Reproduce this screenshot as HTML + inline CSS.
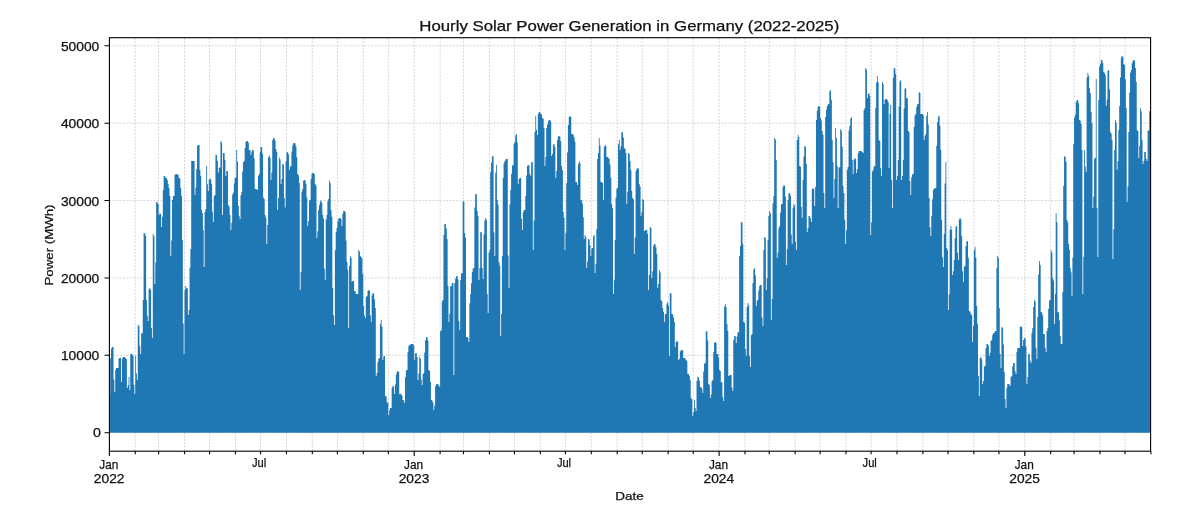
<!DOCTYPE html>
<html><head><meta charset="utf-8"><style>
html,body{margin:0;padding:0;background:#fff;width:1200px;height:520px;overflow:hidden}
svg{display:block;will-change:transform}
</style></head><body>
<svg width="1200" height="520" viewBox="0 0 1200 520">
<rect width="1200" height="520" fill="#fff"/>
<path d="M109.40 432.70H1150.60M109.40 355.32H1150.60M109.40 277.94H1150.60M109.40 200.56H1150.60M109.40 123.18H1150.60M109.40 45.80H1150.60M135.24 37.70V451.20M158.63 37.70V451.20M184.52 37.70V451.20M209.58 37.70V451.20M235.47 37.70V451.20M260.53 37.70V451.20M286.43 37.70V451.20M312.32 37.70V451.20M337.38 37.70V451.20M363.27 37.70V451.20M388.33 37.70V451.20M414.22 37.70V451.20M440.11 37.70V451.20M463.50 37.70V451.20M489.40 37.70V451.20M514.45 37.70V451.20M540.35 37.70V451.20M565.40 37.70V451.20M591.30 37.70V451.20M617.19 37.70V451.20M642.25 37.70V451.20M668.14 37.70V451.20M693.20 37.70V451.20M719.09 37.70V451.20M744.99 37.70V451.20M769.21 37.70V451.20M795.10 37.70V451.20M820.16 37.70V451.20M846.05 37.70V451.20M871.11 37.70V451.20M897.00 37.70V451.20M922.90 37.70V451.20M947.96 37.70V451.20M973.85 37.70V451.20M998.91 37.70V451.20M1024.80 37.70V451.20M1050.69 37.70V451.20M1074.08 37.70V451.20M1099.97 37.70V451.20M1125.03 37.70V451.20" stroke="#c4c4c4" stroke-width="0.7" stroke-dasharray="2 1.4" fill="none"/>
<polygon points="109.40,432.7 109.35,395.0 110.19,395.0 110.19,358.2 111.02,358.2 111.02,348.5 111.86,348.5 111.86,347.0 112.69,347.0 112.69,347.0 113.53,347.0 113.53,379.4 114.36,379.4 114.36,392.0 115.20,392.0 115.20,370.0 116.03,370.0 116.03,368.0 116.87,368.0 116.87,368.0 117.70,368.0 117.70,368.0 118.54,368.0 118.54,358.6 119.37,358.6 119.37,358.0 120.21,358.0 120.21,358.0 121.04,358.0 121.04,382.0 121.88,382.0 121.88,358.7 122.71,358.7 122.71,357.0 123.55,357.0 123.55,357.0 124.38,357.0 124.38,357.2 125.22,357.2 125.22,358.0 126.06,358.0 126.06,359.1 126.89,359.1 126.89,388.0 127.73,388.0 127.73,384.9 128.56,384.9 128.56,377.0 129.40,377.0 129.40,390.0 130.23,390.0 130.23,354.0 131.07,354.0 131.07,354.0 131.90,354.0 131.90,354.5 132.74,354.5 132.74,356.0 133.57,356.0 133.57,385.1 134.41,385.1 134.41,394.0 135.24,394.0 135.24,356.0 136.08,356.0 136.08,373.4 136.91,373.4 136.91,380.0 137.75,380.0 137.75,324.8 138.58,324.8 138.58,326.0 139.42,326.0 139.42,346.2 140.25,346.2 140.25,354.0 141.09,354.0 141.09,333.6 141.93,333.6 141.93,333.0 142.76,333.0 142.76,300.0 143.60,300.0 143.60,233.0 144.43,233.0 144.43,233.5 145.27,233.5 145.27,236.0 146.10,236.0 146.10,300.0 146.94,300.0 146.94,315.7 147.77,315.7 147.77,321.0 148.61,321.0 148.61,289.0 149.44,289.0 149.44,288.0 150.28,288.0 150.28,290.0 151.11,290.0 151.11,327.9 151.95,327.9 151.95,338.0 152.78,338.0 152.78,234.0 153.62,234.0 153.62,236.0 154.45,236.0 154.45,284.0 155.29,284.0 155.29,262.4 156.12,262.4 156.12,202.0 156.96,202.0 156.96,202.4 157.80,202.4 157.80,204.0 158.63,204.0 158.63,215.0 159.47,215.0 159.47,213.0 160.30,213.0 160.30,214.0 161.14,214.0 161.14,227.0 161.97,227.0 161.97,216.7 162.81,216.7 162.81,190.0 163.64,190.0 163.64,176.0 164.48,176.0 164.48,176.1 165.31,176.1 165.31,178.0 166.15,178.0 166.15,178.1 166.98,178.1 166.98,179.9 167.82,179.9 167.82,184.0 168.65,184.0 168.65,187.9 169.49,187.9 169.49,196.0 170.32,196.0 170.32,256.0 171.16,256.0 171.16,240.5 171.99,240.5 171.99,200.0 172.83,200.0 172.83,196.1 173.67,196.1 173.67,196.0 174.50,196.0 174.50,175.1 175.34,175.1 175.34,174.0 176.17,174.0 176.17,174.1 177.01,174.1 177.01,174.4 177.84,174.4 177.84,175.0 178.68,175.0 178.68,178.0 179.51,178.0 179.51,178.6 180.35,178.6 180.35,188.0 181.18,188.0 181.18,196.0 182.02,196.0 182.02,240.0 182.85,240.0 182.85,323.4 183.69,323.4 183.69,354.0 184.52,354.0 184.52,290.0 185.36,290.0 185.36,286.0 186.19,286.0 186.19,288.0 187.03,288.0 187.03,288.6 187.86,288.6 187.86,315.0 188.70,315.0 188.70,310.0 189.54,310.0 189.54,267.8 190.37,267.8 190.37,249.0 191.21,249.0 191.21,161.0 192.04,161.0 192.04,161.0 192.88,161.0 192.88,161.0 193.71,161.0 193.71,161.0 194.55,161.0 194.55,195.0 195.38,195.0 195.38,187.5 196.22,187.5 196.22,169.0 197.05,169.0 197.05,145.8 197.89,145.8 197.89,145.1 198.72,145.1 198.72,145.0 199.56,145.0 199.56,170.0 200.39,170.0 200.39,176.0 201.23,176.0 201.23,210.0 202.06,210.0 202.06,213.0 202.90,213.0 202.90,230.0 203.73,230.0 203.73,267.0 204.57,267.0 204.57,211.9 205.41,211.9 205.41,209.0 206.24,209.0 206.24,166.0 207.08,166.0 207.08,184.2 207.91,184.2 207.91,191.0 208.75,191.0 208.75,179.6 209.58,179.6 209.58,179.0 210.42,179.0 210.42,179.3 211.25,179.3 211.25,184.0 212.09,184.0 212.09,211.7 212.92,211.7 212.92,222.0 213.76,222.0 213.76,196.3 214.59,196.3 214.59,195.0 215.43,195.0 215.43,155.0 216.26,155.0 216.26,155.2 217.10,155.2 217.10,161.1 217.93,161.1 217.93,172.5 218.77,172.5 218.77,167.7 219.60,167.7 219.60,167.5 220.44,167.5 220.44,141.0 221.28,141.0 221.28,142.7 222.11,142.7 222.11,215.0 222.95,215.0 222.95,153.0 223.78,153.0 223.78,153.3 224.62,153.3 224.62,160.0 225.45,160.0 225.45,176.0 226.29,176.0 226.29,171.2 227.12,171.2 227.12,171.0 227.96,171.0 227.96,205.0 228.79,205.0 228.79,206.7 229.63,206.7 229.63,215.0 230.46,215.0 230.46,230.0 231.30,230.0 231.30,222.8 232.13,222.8 232.13,194.6 232.97,194.6 232.97,192.5 233.80,192.5 233.80,183.2 234.64,183.2 234.64,177.8 235.47,177.8 235.47,177.5 236.31,177.5 236.31,150.0 237.15,150.0 237.15,161.4 237.98,161.4 237.98,206.0 238.82,206.0 238.82,215.8 239.65,215.8 239.65,219.0 240.49,219.0 240.49,195.2 241.32,195.2 241.32,192.0 242.16,192.0 242.16,171.5 242.99,171.5 242.99,162.3 243.83,162.3 243.83,161.0 244.66,161.0 244.66,148.1 245.50,148.1 245.50,142.0 246.33,142.0 246.33,141.0 247.17,141.0 247.17,141.1 248.00,141.1 248.00,142.6 248.84,142.6 248.84,150.0 249.67,150.0 249.67,150.2 250.51,150.2 250.51,155.0 251.34,155.0 251.34,151.6 252.18,151.6 252.18,150.0 253.02,150.0 253.02,150.3 253.85,150.3 253.85,158.5 254.69,158.5 254.69,189.0 255.52,189.0 255.52,189.0 256.36,189.0 256.36,189.3 257.19,189.3 257.19,190.0 258.03,190.0 258.03,175.7 258.86,175.7 258.86,174.0 259.70,174.0 259.70,152.0 260.53,152.0 260.53,147.0 261.37,147.0 261.37,147.3 262.20,147.3 262.20,153.4 263.04,153.4 263.04,197.5 263.87,197.5 263.87,199.0 264.71,199.0 264.71,215.0 265.54,215.0 265.54,217.7 266.38,217.7 266.38,244.0 267.22,244.0 267.22,225.1 268.05,225.1 268.05,157.0 268.89,157.0 268.89,155.6 269.72,155.6 269.72,157.9 270.56,157.9 270.56,180.0 271.39,180.0 271.39,172.5 272.23,172.5 272.23,140.1 273.06,140.1 273.06,138.0 273.90,138.0 273.90,138.2 274.73,138.2 274.73,140.5 275.57,140.5 275.57,149.0 276.40,149.0 276.40,151.9 277.24,151.9 277.24,210.0 278.07,210.0 278.07,197.9 278.91,197.9 278.91,157.5 279.74,157.5 279.74,159.6 280.58,159.6 280.58,184.0 281.41,184.0 281.41,178.9 282.25,178.9 282.25,164.0 283.09,164.0 283.09,164.6 283.92,164.6 283.92,197.9 284.76,197.9 284.76,207.5 285.59,207.5 285.59,161.5 286.43,161.5 286.43,152.6 287.26,152.6 287.26,152.0 288.10,152.0 288.10,154.3 288.93,154.3 288.93,170.0 289.77,170.0 289.77,166.4 290.60,166.4 290.60,166.0 291.44,166.0 291.44,151.5 292.27,151.5 292.27,145.2 293.11,145.2 293.11,143.2 293.94,143.2 293.94,143.0 294.78,143.0 294.78,143.3 295.61,143.3 295.61,146.4 296.45,146.4 296.45,157.3 297.28,157.3 297.28,174.0 298.12,174.0 298.12,175.2 298.96,175.2 298.96,183.0 299.79,183.0 299.79,290.0 300.63,290.0 300.63,272.1 301.46,272.1 301.46,191.7 302.30,191.7 302.30,189.0 303.13,189.0 303.13,180.6 303.97,180.6 303.97,180.0 304.80,180.0 304.80,180.4 305.64,180.4 305.64,183.8 306.47,183.8 306.47,197.5 307.31,197.5 307.31,226.0 308.14,226.0 308.14,220.9 308.98,220.9 308.98,200.6 309.81,200.6 309.81,200.0 310.65,200.0 310.65,178.9 311.48,178.9 311.48,173.8 312.32,173.8 312.32,173.0 313.15,173.0 313.15,173.1 313.99,173.1 313.99,174.3 314.83,174.3 314.83,184.0 315.66,184.0 315.66,185.4 316.50,185.4 316.50,238.0 317.33,238.0 317.33,231.3 318.17,231.3 318.17,210.0 319.00,210.0 319.00,205.2 319.84,205.2 319.84,201.2 320.67,201.2 320.67,200.6 321.51,200.6 321.51,202.9 322.34,202.9 322.34,215.0 323.18,215.0 323.18,218.7 324.01,218.7 324.01,268.7 324.85,268.7 324.85,280.0 325.68,280.0 325.68,219.7 326.52,219.7 326.52,215.0 327.35,215.0 327.35,201.3 328.19,201.3 328.19,199.0 329.02,199.0 329.02,180.6 329.86,180.6 329.86,183.0 330.70,183.0 330.70,210.0 331.53,210.0 331.53,216.8 332.37,216.8 332.37,288.0 333.20,288.0 333.20,315.2 334.04,315.2 334.04,325.0 334.87,325.0 334.87,250.0 335.71,250.0 335.71,232.0 336.54,232.0 336.54,228.0 337.38,228.0 337.38,221.4 338.21,221.4 338.21,218.7 339.05,218.7 339.05,218.0 339.88,218.0 339.88,218.0 340.72,218.0 340.72,219.2 341.55,219.2 341.55,226.0 342.39,226.0 342.39,213.5 343.22,213.5 343.22,211.0 344.06,211.0 344.06,211.1 344.89,211.1 344.89,212.0 345.73,212.0 345.73,240.6 346.57,240.6 346.57,262.0 347.40,262.0 347.40,270.0 348.24,270.0 348.24,328.0 349.07,328.0 349.07,266.0 349.91,266.0 349.91,256.0 350.74,256.0 350.74,257.7 351.58,257.7 351.58,282.0 352.41,282.0 352.41,281.1 353.25,281.1 353.25,281.0 354.08,281.0 354.08,291.0 354.92,291.0 354.92,291.4 355.75,291.4 355.75,294.0 356.59,294.0 356.59,294.0 357.42,294.0 357.42,294.0 358.26,294.0 358.26,250.0 359.09,250.0 359.09,251.4 359.93,251.4 359.93,256.0 360.76,256.0 360.76,257.0 361.60,257.0 361.60,258.2 362.44,258.2 362.44,274.2 363.27,274.2 363.27,306.0 364.11,306.0 364.11,315.5 364.94,315.5 364.94,318.0 365.78,318.0 365.78,296.9 366.61,296.9 366.61,296.0 367.45,296.0 367.45,290.9 368.28,290.9 368.28,290.0 369.12,290.0 369.12,290.5 369.95,290.5 369.95,315.2 370.79,315.2 370.79,322.0 371.62,322.0 371.62,295.6 372.46,295.6 372.46,293.0 373.29,293.0 373.29,293.5 374.13,293.5 374.13,299.3 374.96,299.3 374.96,308.0 375.80,308.0 375.80,376.0 376.63,376.0 376.63,372.9 377.47,372.9 377.47,362.0 378.31,362.0 378.31,358.5 379.14,358.5 379.14,358.0 379.98,358.0 379.98,324.0 380.81,324.0 380.81,320.0 381.65,320.0 381.65,326.7 382.48,326.7 382.48,360.0 383.32,360.0 383.32,356.2 384.15,356.2 384.15,356.0 384.99,356.0 384.99,396.0 385.82,396.0 385.82,396.5 386.66,396.5 386.66,402.0 387.49,402.0 387.49,403.0 388.33,403.0 388.33,415.0 389.16,415.0 389.16,410.3 390.00,410.3 390.00,408.1 390.83,408.1 390.83,408.0 391.67,408.0 391.67,387.7 392.50,387.7 392.50,386.0 393.34,386.0 393.34,386.3 394.18,386.3 394.18,394.0 395.01,394.0 395.01,384.6 395.85,384.6 395.85,374.6 396.68,374.6 396.68,371.4 397.52,371.4 397.52,371.0 398.35,371.0 398.35,371.9 399.19,371.9 399.19,394.0 400.02,394.0 400.02,394.0 400.86,394.0 400.86,394.3 401.69,394.3 401.69,395.8 402.53,395.8 402.53,400.0 403.36,400.0 403.36,400.3 404.20,400.3 404.20,403.0 405.03,403.0 405.03,377.3 405.87,377.3 405.87,370.6 406.70,370.6 406.70,370.0 407.54,370.0 407.54,351.8 408.37,351.8 408.37,346.1 409.21,346.1 409.21,345.0 410.05,345.0 410.05,344.6 410.88,344.6 410.88,344.1 411.72,344.1 411.72,344.0 412.55,344.0 412.55,344.0 413.39,344.0 413.39,345.5 414.22,345.5 414.22,360.0 415.06,360.0 415.06,353.3 415.89,353.3 415.89,353.0 416.73,353.0 416.73,357.0 417.56,357.0 417.56,380.0 418.40,380.0 418.40,373.6 419.23,373.6 419.23,357.0 420.07,357.0 420.07,358.4 420.90,358.4 420.90,379.6 421.74,379.6 421.74,385.0 422.57,385.0 422.57,374.3 423.41,374.3 423.41,373.0 424.24,373.0 424.24,352.4 425.08,352.4 425.08,340.2 425.92,340.2 425.92,337.2 426.75,337.2 426.75,337.0 427.59,337.0 427.59,340.5 428.42,340.5 428.42,370.0 429.26,370.0 429.26,370.9 430.09,370.9 430.09,381.8 430.93,381.8 430.93,400.0 431.76,400.0 431.76,400.4 432.60,400.4 432.60,402.6 433.43,402.6 433.43,410.0 434.27,410.0 434.27,405.4 435.10,405.4 435.10,386.2 435.94,386.2 435.94,384.2 436.77,384.2 436.77,384.0 437.61,384.0 437.61,384.2 438.44,384.2 438.44,385.3 439.28,385.3 439.28,387.0 440.11,387.0 440.11,331.2 440.95,331.2 440.95,330.0 441.79,330.0 441.79,301.2 442.62,301.2 442.62,300.0 443.46,300.0 443.46,234.9 444.29,234.9 444.29,224.0 445.13,224.0 445.13,224.3 445.96,224.3 445.96,228.5 446.80,228.5 446.80,239.0 447.63,239.0 447.63,286.0 448.47,286.0 448.47,322.0 449.30,322.0 449.30,313.6 450.14,313.6 450.14,286.3 450.97,286.3 450.97,286.0 451.81,286.0 451.81,283.1 452.64,283.1 452.64,283.0 453.48,283.0 453.48,375.0 454.31,375.0 454.31,283.0 455.15,283.0 455.15,278.4 455.98,278.4 455.98,276.2 456.82,276.2 456.82,276.0 457.66,276.0 457.66,279.6 458.49,279.6 458.49,321.3 459.33,321.3 459.33,330.0 460.16,330.0 460.16,280.2 461.00,280.2 461.00,273.4 461.83,273.4 461.83,273.0 462.67,273.0 462.67,201.0 463.50,201.0 463.50,202.0 464.34,202.0 464.34,233.0 465.17,233.0 465.17,237.8 466.01,237.8 466.01,337.0 466.84,337.0 466.84,337.1 467.68,337.1 467.68,338.0 468.51,338.0 468.51,342.0 469.35,342.0 469.35,303.2 470.18,303.2 470.18,294.0 471.02,294.0 471.02,283.2 471.85,283.2 471.85,271.9 472.69,271.9 472.69,268.4 473.53,268.4 473.53,268.0 474.36,268.0 474.36,207.5 475.20,207.5 475.20,194.0 476.03,194.0 476.03,194.3 476.87,194.3 476.87,211.0 477.70,211.0 477.70,216.0 478.54,216.0 478.54,280.0 479.37,280.0 479.37,268.1 480.21,268.1 480.21,232.0 481.04,232.0 481.04,232.4 481.88,232.4 481.88,268.2 482.71,268.2 482.71,279.0 483.55,279.0 483.55,234.2 484.38,234.2 484.38,220.6 485.22,220.6 485.22,218.0 486.05,218.0 486.05,219.8 486.89,219.8 486.89,294.0 487.72,294.0 487.72,313.0 488.56,313.0 488.56,252.5 489.40,252.5 489.40,250.0 490.23,250.0 490.23,172.0 491.07,172.0 491.07,162.4 491.90,162.4 491.90,156.5 492.74,156.5 492.74,156.0 493.57,156.0 493.57,232.6 494.41,232.6 494.41,256.0 495.24,256.0 495.24,172.7 496.08,172.7 496.08,165.0 496.91,165.0 496.91,200.0 497.75,200.0 497.75,204.4 498.58,204.4 498.58,262.0 499.42,262.0 499.42,265.8 500.25,265.8 500.25,336.0 501.09,336.0 501.09,314.1 501.92,314.1 501.92,256.0 502.76,256.0 502.76,178.0 503.59,178.0 503.59,163.2 504.43,163.2 504.43,161.0 505.27,161.0 505.27,159.5 506.10,159.5 506.10,159.0 506.94,159.0 506.94,159.0 507.77,159.0 507.77,255.6 508.61,255.6 508.61,288.0 509.44,288.0 509.44,204.6 510.28,204.6 510.28,190.0 511.11,190.0 511.11,174.1 511.95,174.1 511.95,165.6 512.78,165.6 512.78,165.0 513.62,165.0 513.62,144.1 514.45,144.1 514.45,142.0 515.29,142.0 515.29,135.2 516.12,135.2 516.12,134.0 516.96,134.0 516.96,142.4 517.79,142.4 517.79,184.0 518.63,184.0 518.63,179.0 519.46,179.0 519.46,178.1 520.30,178.1 520.30,178.0 521.14,178.0 521.14,218.7 521.97,218.7 521.97,230.0 522.81,230.0 522.81,212.3 523.64,212.3 523.64,210.1 524.48,210.1 524.48,210.0 525.31,210.0 525.31,196.0 526.15,196.0 526.15,175.5 526.98,175.5 526.98,165.7 527.82,165.7 527.82,165.0 528.65,165.0 528.65,165.5 529.49,165.5 529.49,173.8 530.32,173.8 530.32,176.0 531.16,176.0 531.16,162.3 531.99,162.3 531.99,162.0 532.83,162.0 532.83,250.0 533.66,250.0 533.66,220.6 534.50,220.6 534.50,132.0 535.33,132.0 535.33,116.0 536.17,116.0 536.17,129.7 537.01,129.7 537.01,135.0 537.84,135.0 537.84,113.8 538.68,113.8 538.68,112.0 539.51,112.0 539.51,112.2 540.35,112.2 540.35,114.0 541.18,114.0 541.18,114.2 542.02,114.2 542.02,118.0 542.85,118.0 542.85,118.7 543.69,118.7 543.69,127.9 544.52,127.9 544.52,166.0 545.36,166.0 545.36,156.7 546.19,156.7 546.19,128.0 547.03,128.0 547.03,124.6 547.86,124.6 547.86,121.2 548.70,121.2 548.70,120.1 549.53,120.1 549.53,120.0 550.37,120.0 550.37,121.4 551.20,121.4 551.20,156.0 552.04,156.0 552.04,153.9 552.88,153.9 552.88,144.4 553.71,144.4 553.71,144.0 554.55,144.0 554.55,147.1 555.38,147.1 555.38,178.0 556.22,178.0 556.22,171.0 557.05,171.0 557.05,140.1 557.89,140.1 557.89,136.3 558.72,136.3 558.72,136.0 559.56,136.0 559.56,136.7 560.39,136.7 560.39,141.3 561.23,141.3 561.23,166.0 562.06,166.0 562.06,169.9 562.90,169.9 562.90,212.0 563.73,212.0 563.73,217.8 564.57,217.8 564.57,250.0 565.40,250.0 565.40,233.1 566.24,233.1 566.24,183.0 567.08,183.0 567.08,152.5 567.91,152.5 567.91,125.1 568.75,125.1 568.75,116.9 569.58,116.9 569.58,116.0 570.42,116.0 570.42,116.9 571.25,116.9 571.25,134.0 572.09,134.0 572.09,134.0 572.92,134.0 572.92,134.8 573.76,134.8 573.76,137.0 574.59,137.0 574.59,141.8 575.43,141.8 575.43,182.0 576.26,182.0 576.26,182.2 577.10,182.2 577.10,185.0 577.93,185.0 577.93,164.3 578.77,164.3 578.77,161.0 579.60,161.0 579.60,163.0 580.44,163.0 580.44,200.0 581.27,200.0 581.27,200.3 582.11,200.3 582.11,203.7 582.95,203.7 582.95,217.3 583.78,217.3 583.78,239.0 584.62,239.0 584.62,235.0 585.45,235.0 585.45,237.1 586.29,237.1 586.29,268.0 587.12,268.0 587.12,261.6 587.96,261.6 587.96,239.0 588.79,239.0 588.79,239.4 589.63,239.4 589.63,244.9 590.46,244.9 590.46,256.0 591.30,256.0 591.30,248.5 592.13,248.5 592.13,248.0 592.97,248.0 592.97,236.2 593.80,236.2 593.80,235.0 594.64,235.0 594.64,273.0 595.47,273.0 595.47,263.8 596.31,263.8 596.31,229.0 597.14,229.0 597.14,158.9 597.98,158.9 597.98,153.0 598.82,153.0 598.82,138.0 599.65,138.0 599.65,145.4 600.49,145.4 600.49,182.0 601.32,182.0 601.32,182.1 602.16,182.1 602.16,183.0 602.99,183.0 602.99,200.0 603.83,200.0 603.83,147.0 604.66,147.0 604.66,145.0 605.50,145.0 605.50,145.9 606.33,145.9 606.33,157.0 607.17,157.0 607.17,157.0 608.00,157.0 608.00,157.7 608.84,157.7 608.84,159.0 609.67,159.0 609.67,164.5 610.51,164.5 610.51,178.0 611.34,178.0 611.34,204.0 612.18,204.0 612.18,208.3 613.01,208.3 613.01,294.0 613.85,294.0 613.85,280.2 614.69,280.2 614.69,240.0 615.52,240.0 615.52,197.8 616.36,197.8 616.36,188.7 617.19,188.7 617.19,188.0 618.03,188.0 618.03,144.3 618.86,144.3 618.86,140.0 619.70,140.0 619.70,150.0 620.53,150.0 620.53,146.3 621.37,146.3 621.37,132.0 622.20,132.0 622.20,132.4 623.04,132.4 623.04,137.6 623.87,137.6 623.87,148.0 624.71,148.0 624.71,148.7 625.54,148.7 625.54,153.0 626.38,153.0 626.38,204.0 627.21,204.0 627.21,191.8 628.05,191.8 628.05,153.0 628.88,153.0 628.88,154.1 629.72,154.1 629.72,161.0 630.56,161.0 630.56,170.2 631.39,170.2 631.39,191.0 632.23,191.0 632.23,198.0 633.06,198.0 633.06,199.3 633.90,199.3 633.90,254.0 634.73,254.0 634.73,237.4 635.57,237.4 635.57,171.0 636.40,171.0 636.40,169.0 637.24,169.0 637.24,168.0 638.07,168.0 638.07,168.5 638.91,168.5 638.91,184.0 639.74,184.0 639.74,186.6 640.58,186.6 640.58,216.0 641.41,216.0 641.41,211.7 642.25,211.7 642.25,199.0 643.08,199.0 643.08,199.9 643.92,199.9 643.92,231.0 644.75,231.0 644.75,230.4 645.59,230.4 645.59,230.1 646.43,230.1 646.43,230.0 647.26,230.0 647.26,233.8 648.10,233.8 648.10,290.0 648.93,290.0 648.93,275.0 649.77,275.0 649.77,227.0 650.60,227.0 650.60,228.0 651.44,228.0 651.44,278.0 652.27,278.0 652.27,271.3 653.11,271.3 653.11,245.6 653.94,245.6 653.94,244.0 654.78,244.0 654.78,244.2 655.61,244.2 655.61,247.3 656.45,247.3 656.45,254.0 657.28,254.0 657.28,288.0 658.12,288.0 658.12,284.1 658.95,284.1 658.95,270.0 659.79,270.0 659.79,272.6 660.62,272.6 660.62,300.0 661.46,300.0 661.46,301.1 662.30,301.1 662.30,308.0 663.13,308.0 663.13,311.7 663.97,311.7 663.97,322.0 664.80,322.0 664.80,314.3 665.64,314.3 665.64,314.0 666.47,314.0 666.47,303.7 667.31,303.7 667.31,302.0 668.14,302.0 668.14,305.5 668.98,305.5 668.98,356.0 669.81,356.0 669.81,293.0 670.65,293.0 670.65,293.4 671.48,293.4 671.48,314.0 672.32,314.0 672.32,314.3 673.15,314.3 673.15,317.5 673.99,317.5 673.99,322.0 674.82,322.0 674.82,347.0 675.66,347.0 675.66,342.0 676.49,342.0 676.49,341.0 677.33,341.0 677.33,341.7 678.17,341.7 678.17,360.0 679.00,360.0 679.00,358.8 679.84,358.8 679.84,351.6 680.67,351.6 680.67,350.2 681.51,350.2 681.51,350.0 682.34,350.0 682.34,350.3 683.18,350.3 683.18,358.0 684.01,358.0 684.01,358.0 684.85,358.0 684.85,358.4 685.68,358.4 685.68,360.0 686.52,360.0 686.52,361.2 687.35,361.2 687.35,374.0 688.19,374.0 688.19,374.1 689.02,374.1 689.02,376.1 689.86,376.1 689.86,380.0 690.69,380.0 690.69,398.0 691.53,398.0 691.53,399.6 692.36,399.6 692.36,416.0 693.20,416.0 693.20,412.2 694.04,412.2 694.04,400.0 694.87,400.0 694.87,408.1 695.71,408.1 695.71,411.0 696.54,411.0 696.54,381.0 697.38,381.0 697.38,377.0 698.21,377.0 698.21,377.2 699.05,377.2 699.05,380.6 699.88,380.6 699.88,387.0 700.72,387.0 700.72,387.2 701.55,387.2 701.55,388.4 702.39,388.4 702.39,393.0 703.22,393.0 703.22,371.5 704.06,371.5 704.06,363.5 704.89,363.5 704.89,363.0 705.73,363.0 705.73,331.6 706.56,331.6 706.56,331.0 707.40,331.0 707.40,340.5 708.23,340.5 708.23,384.0 709.07,384.0 709.07,385.0 709.91,385.0 709.91,398.0 710.74,398.0 710.74,394.8 711.58,394.8 711.58,381.0 712.41,381.0 712.41,380.0 713.25,380.0 713.25,352.1 714.08,352.1 714.08,342.5 714.92,342.5 714.92,342.0 715.75,342.0 715.75,343.0 716.59,343.0 716.59,354.0 717.42,354.0 717.42,354.1 718.26,354.1 718.26,357.6 719.09,357.6 719.09,370.0 719.93,370.0 719.93,371.0 720.76,371.0 720.76,382.0 721.60,382.0 721.60,382.4 722.43,382.4 722.43,397.3 723.27,397.3 723.27,401.0 724.10,401.0 724.10,306.3 724.94,306.3 724.94,304.0 725.78,304.0 725.78,307.3 726.61,307.3 726.61,324.0 727.45,324.0 727.45,330.9 728.28,330.9 728.28,376.0 729.12,376.0 729.12,375.2 729.95,375.2 729.95,375.0 730.79,375.0 730.79,375.0 731.62,375.0 731.62,387.4 732.46,387.4 732.46,391.0 733.29,391.0 733.29,339.8 734.13,339.8 734.13,336.0 734.96,336.0 734.96,336.3 735.80,336.3 735.80,343.0 736.63,343.0 736.63,336.6 737.47,336.6 737.47,332.4 738.30,332.4 738.30,332.0 739.14,332.0 739.14,256.1 739.97,256.1 739.97,246.0 740.81,246.0 740.81,222.0 741.65,222.0 741.65,222.5 742.48,222.5 742.48,244.0 743.32,244.0 743.32,322.0 744.15,322.0 744.15,322.7 744.99,322.7 744.99,349.0 745.82,349.0 745.82,356.0 746.66,356.0 746.66,307.3 747.49,307.3 747.49,303.0 748.33,303.0 748.33,305.3 749.16,305.3 749.16,356.3 750.00,356.3 750.00,367.0 750.83,367.0 750.83,335.2 751.67,335.2 751.67,334.0 752.50,334.0 752.50,283.0 753.34,283.0 753.34,269.5 754.17,269.5 754.17,268.0 755.01,268.0 755.01,275.3 755.84,275.3 755.84,306.0 756.68,306.0 756.68,300.4 757.52,300.4 757.52,300.0 758.35,300.0 758.35,290.4 759.19,290.4 759.19,286.1 760.02,286.1 760.02,285.1 760.86,285.1 760.86,285.0 761.69,285.0 761.69,317.4 762.53,317.4 762.53,326.0 763.36,326.0 763.36,250.0 764.20,250.0 764.20,237.0 765.03,237.0 765.03,238.0 765.87,238.0 765.87,290.0 766.70,290.0 766.70,278.2 767.54,278.2 767.54,240.0 768.37,240.0 768.37,216.0 769.21,216.0 769.21,211.0 770.04,211.0 770.04,213.2 770.88,213.2 770.88,320.0 771.71,320.0 771.71,298.9 772.55,298.9 772.55,203.5 773.39,203.5 773.39,196.0 774.22,196.0 774.22,138.0 775.06,138.0 775.06,139.4 775.89,139.4 775.89,160.0 776.73,160.0 776.73,258.0 777.56,258.0 777.56,252.5 778.40,252.5 778.40,228.2 779.23,228.2 779.23,226.0 780.07,226.0 780.07,212.7 780.90,212.7 780.90,204.6 781.74,204.6 781.74,204.0 782.57,204.0 782.57,187.0 783.41,187.0 783.41,185.0 784.24,185.0 784.24,185.8 785.08,185.8 785.08,196.7 785.91,196.7 785.91,265.0 786.75,265.0 786.75,249.3 787.58,249.3 787.58,200.0 788.42,200.0 788.42,193.5 789.26,193.5 789.26,193.0 790.09,193.0 790.09,195.6 790.93,195.6 790.93,234.4 791.76,234.4 791.76,244.0 792.60,244.0 792.60,208.0 793.43,208.0 793.43,204.0 794.27,204.0 794.27,205.4 795.10,205.4 795.10,241.7 795.94,241.7 795.94,250.0 796.77,250.0 796.77,140.0 797.61,140.0 797.61,135.0 798.44,135.0 798.44,136.9 799.28,136.9 799.28,166.0 800.11,166.0 800.11,166.8 800.95,166.8 800.95,206.9 801.78,206.9 801.78,218.0 802.62,218.0 802.62,180.0 803.45,180.0 803.45,156.7 804.29,156.7 804.29,146.0 805.13,146.0 805.13,146.7 805.96,146.7 805.96,164.0 806.80,164.0 806.80,232.0 807.63,232.0 807.63,228.1 808.47,228.1 808.47,216.0 809.30,216.0 809.30,216.2 810.14,216.2 810.14,218.5 810.97,218.5 810.97,222.0 811.81,222.0 811.81,189.3 812.64,189.3 812.64,188.0 813.48,188.0 813.48,189.3 814.31,189.3 814.31,206.0 815.15,206.0 815.15,186.7 815.98,186.7 815.98,120.0 816.82,120.0 816.82,111.0 817.65,111.0 817.65,106.6 818.49,106.6 818.49,106.0 819.32,106.0 819.32,106.9 820.16,106.9 820.16,118.0 821.00,118.0 821.00,120.4 821.83,120.4 821.83,131.0 822.67,131.0 822.67,134.7 823.50,134.7 823.50,193.1 824.34,193.1 824.34,208.0 825.17,208.0 825.17,117.0 826.01,117.0 826.01,109.4 826.84,109.4 826.84,106.0 827.68,106.0 827.68,104.3 828.51,104.3 828.51,104.0 829.35,104.0 829.35,91.6 830.18,91.6 830.18,90.0 831.02,90.0 831.02,99.8 831.85,99.8 831.85,140.0 832.69,140.0 832.69,162.0 833.52,162.0 833.52,198.0 834.36,198.0 834.36,179.0 835.19,179.0 835.19,128.0 836.03,128.0 836.03,137.9 836.87,137.9 836.87,166.0 837.70,166.0 837.70,208.0 838.54,208.0 838.54,167.8 839.37,167.8 839.37,167.0 840.21,167.0 840.21,129.0 841.04,129.0 841.04,130.8 841.88,130.8 841.88,146.7 842.71,146.7 842.71,186.0 843.55,186.0 843.55,192.9 844.38,192.9 844.38,220.0 845.22,220.0 845.22,244.0 846.05,244.0 846.05,230.3 846.89,230.3 846.89,169.4 847.72,169.4 847.72,167.0 848.56,167.0 848.56,130.6 849.39,130.6 849.39,126.0 850.23,126.0 850.23,118.4 851.06,118.4 851.06,117.0 851.90,117.0 851.90,159.8 852.74,159.8 852.74,174.0 853.57,174.0 853.57,159.7 854.41,159.7 854.41,158.0 855.24,158.0 855.24,158.9 856.08,158.9 856.08,173.0 856.91,173.0 856.91,169.3 857.75,169.3 857.75,153.6 858.58,153.6 858.58,151.3 859.42,151.3 859.42,151.0 860.25,151.0 860.25,151.0 861.09,151.0 861.09,151.2 861.92,151.2 861.92,151.9 862.76,151.9 862.76,153.0 863.59,153.0 863.59,110.1 864.43,110.1 864.43,108.0 865.26,108.0 865.26,68.0 866.10,68.0 866.10,69.4 866.93,69.4 866.93,98.0 867.77,98.0 867.77,93.9 868.61,93.9 868.61,93.0 869.44,93.0 869.44,95.8 870.28,95.8 870.28,235.0 871.11,235.0 871.11,222.6 871.95,222.6 871.95,171.6 872.78,171.6 872.78,170.0 873.62,170.0 873.62,166.4 874.45,166.4 874.45,166.0 875.29,166.0 875.29,108.0 876.12,108.0 876.12,82.6 876.96,82.6 876.96,76.0 877.79,76.0 877.79,82.1 878.63,82.1 878.63,140.0 879.46,140.0 879.46,141.1 880.30,141.1 880.30,168.2 881.13,168.2 881.13,176.0 881.97,176.0 881.97,82.0 882.81,82.0 882.81,84.1 883.64,84.1 883.64,104.0 884.48,104.0 884.48,99.7 885.31,99.7 885.31,99.0 886.15,99.0 886.15,99.1 886.98,99.1 886.98,99.9 887.82,99.9 887.82,102.0 888.65,102.0 888.65,168.0 889.49,168.0 889.49,113.4 890.32,113.4 890.32,105.0 891.16,105.0 891.16,180.0 891.99,180.0 891.99,208.0 892.83,208.0 892.83,77.8 893.66,77.8 893.66,68.0 894.50,68.0 894.50,68.5 895.33,68.5 895.33,74.0 896.17,74.0 896.17,180.0 897.00,180.0 897.00,176.0 897.84,176.0 897.84,160.0 898.68,160.0 898.68,106.4 899.51,106.4 899.51,81.6 900.35,81.6 900.35,80.0 901.18,80.0 901.18,180.0 902.02,180.0 902.02,175.9 902.85,175.9 902.85,160.0 903.69,160.0 903.69,108.6 904.52,108.6 904.52,88.8 905.36,88.8 905.36,88.0 906.19,88.0 906.19,98.0 907.03,98.0 907.03,98.6 907.86,98.6 907.86,131.0 908.70,131.0 908.70,131.9 909.53,131.9 909.53,181.1 910.37,181.1 910.37,195.0 911.20,195.0 911.20,177.3 912.04,177.3 912.04,174.2 912.87,174.2 912.87,174.0 913.71,174.0 913.71,127.0 914.55,127.0 914.55,115.5 915.38,115.5 915.38,114.0 916.22,114.0 916.22,106.9 917.05,106.9 917.05,104.2 917.89,104.2 917.89,104.0 918.72,104.0 918.72,92.0 919.56,92.0 919.56,92.9 920.39,92.9 920.39,114.0 921.23,114.0 921.23,114.0 922.06,114.0 922.06,114.0 922.90,114.0 922.90,114.9 923.73,114.9 923.73,140.0 924.57,140.0 924.57,135.7 925.40,135.7 925.40,134.0 926.24,134.0 926.24,116.1 927.07,116.1 927.07,112.0 927.91,112.0 927.91,124.4 928.74,124.4 928.74,198.0 929.58,198.0 929.58,227.2 930.42,227.2 930.42,236.0 931.25,236.0 931.25,216.0 932.09,216.0 932.09,199.3 932.92,199.3 932.92,189.7 933.76,189.7 933.76,189.0 934.59,189.0 934.59,188.1 935.43,188.1 935.43,188.0 936.26,188.0 936.26,145.8 937.10,145.8 937.10,122.2 937.93,122.2 937.93,116.4 938.77,116.4 938.77,116.0 939.60,116.0 939.60,125.8 940.44,125.8 940.44,150.0 941.27,150.0 941.27,220.0 942.11,220.0 942.11,257.3 942.94,257.3 942.94,267.0 943.78,267.0 943.78,234.0 944.61,234.0 944.61,183.4 945.45,183.4 945.45,162.0 946.29,162.0 946.29,248.0 947.12,248.0 947.12,250.2 947.96,250.2 947.96,310.0 948.79,310.0 948.79,294.4 949.63,294.4 949.63,230.0 950.46,230.0 950.46,226.0 951.30,226.0 951.30,229.5 952.13,229.5 952.13,275.0 952.97,275.0 952.97,271.2 953.80,271.2 953.80,260.0 954.64,260.0 954.64,238.2 955.47,238.2 955.47,226.8 956.31,226.8 956.31,226.0 957.14,226.0 957.14,252.7 957.98,252.7 957.98,260.0 958.81,260.0 958.81,219.6 959.65,219.6 959.65,218.0 960.48,218.0 960.48,219.3 961.32,219.3 961.32,236.0 962.16,236.0 962.16,271.3 962.99,271.3 962.99,282.0 963.83,282.0 963.83,266.6 964.66,266.6 964.66,266.0 965.50,266.0 965.50,246.0 966.33,246.0 966.33,241.4 967.17,241.4 967.17,241.0 968.00,241.0 968.00,257.8 968.84,257.8 968.84,311.0 969.67,311.0 969.67,311.4 970.51,311.4 970.51,314.0 971.34,314.0 971.34,315.0 972.18,315.0 972.18,342.0 973.01,342.0 973.01,325.9 973.85,325.9 973.85,250.3 974.68,250.3 974.68,247.0 975.52,247.0 975.52,257.8 976.35,257.8 976.35,306.0 977.19,306.0 977.19,324.0 978.03,324.0 978.03,376.1 978.86,376.1 978.86,396.0 979.70,396.0 979.70,358.0 980.53,358.0 980.53,357.0 981.37,357.0 981.37,359.3 982.20,359.3 982.20,384.0 983.04,384.0 983.04,380.9 983.87,380.9 983.87,366.6 984.71,366.6 984.71,366.0 985.54,366.0 985.54,348.0 986.38,348.0 986.38,344.3 987.21,344.3 987.21,344.0 988.05,344.0 988.05,345.5 988.88,345.5 988.88,356.0 989.72,356.0 989.72,352.7 990.55,352.7 990.55,340.7 991.39,340.7 991.39,340.0 992.22,340.0 992.22,335.0 993.06,335.0 993.06,333.1 993.90,333.1 993.90,333.0 994.73,333.0 994.73,331.1 995.57,331.1 995.57,331.0 996.40,331.0 996.40,268.1 997.24,268.1 997.24,256.0 998.07,256.0 998.07,257.7 998.91,257.7 998.91,308.0 999.74,308.0 999.74,354.0 1000.58,354.0 1000.58,368.0 1001.41,368.0 1001.41,327.0 1002.25,327.0 1002.25,328.3 1003.08,328.3 1003.08,344.4 1003.92,344.4 1003.92,372.0 1004.75,372.0 1004.75,398.9 1005.59,398.9 1005.59,408.0 1006.42,408.0 1006.42,387.7 1007.26,387.7 1007.26,384.0 1008.09,384.0 1008.09,384.0 1008.93,384.0 1008.93,384.5 1009.77,384.5 1009.77,386.0 1010.60,386.0 1010.60,377.0 1011.44,377.0 1011.44,376.0 1012.27,376.0 1012.27,366.2 1013.11,366.2 1013.11,363.1 1013.94,363.1 1013.94,363.0 1014.78,363.0 1014.78,371.2 1015.61,371.2 1015.61,374.0 1016.45,374.0 1016.45,351.8 1017.28,351.8 1017.28,348.0 1018.12,348.0 1018.12,348.0 1018.95,348.0 1018.95,348.0 1019.79,348.0 1019.79,326.9 1020.62,326.9 1020.62,326.0 1021.46,326.0 1021.46,327.3 1022.29,327.3 1022.29,346.0 1023.13,346.0 1023.13,340.1 1023.96,340.1 1023.96,338.0 1024.80,338.0 1024.80,338.6 1025.64,338.6 1025.64,346.5 1026.47,346.5 1026.47,384.0 1027.31,384.0 1027.31,377.0 1028.14,377.0 1028.14,354.2 1028.98,354.2 1028.98,354.0 1029.81,354.0 1029.81,360.8 1030.65,360.8 1030.65,363.0 1031.48,363.0 1031.48,332.7 1032.32,332.7 1032.32,328.0 1033.15,328.0 1033.15,306.9 1033.99,306.9 1033.99,300.0 1034.82,300.0 1034.82,301.5 1035.66,301.5 1035.66,347.8 1036.49,347.8 1036.49,359.0 1037.33,359.0 1037.33,317.0 1038.16,317.0 1038.16,274.4 1039.00,274.4 1039.00,261.0 1039.83,261.0 1039.83,264.9 1040.67,264.9 1040.67,312.0 1041.51,312.0 1041.51,312.4 1042.34,312.4 1042.34,315.5 1043.18,315.5 1043.18,334.0 1044.01,334.0 1044.01,334.1 1044.85,334.1 1044.85,347.8 1045.68,347.8 1045.68,352.0 1046.52,352.0 1046.52,331.0 1047.35,331.0 1047.35,328.0 1048.19,328.0 1048.19,308.7 1049.02,308.7 1049.02,300.5 1049.86,300.5 1049.86,300.0 1050.69,300.0 1050.69,250.0 1051.53,250.0 1051.53,252.4 1052.36,252.4 1052.36,278.0 1053.20,278.0 1053.20,280.4 1054.03,280.4 1054.03,324.0 1054.87,324.0 1054.87,294.0 1055.70,294.0 1055.70,213.0 1056.54,213.0 1056.54,222.0 1057.38,222.0 1057.38,312.0 1058.21,312.0 1058.21,312.6 1059.05,312.6 1059.05,320.6 1059.88,320.6 1059.88,336.0 1060.72,336.0 1060.72,344.0 1061.55,344.0 1061.55,344.0 1062.39,344.0 1062.39,292.0 1063.22,292.0 1063.22,186.0 1064.06,186.0 1064.06,156.0 1064.89,156.0 1064.89,157.0 1065.73,157.0 1065.73,162.0 1066.56,162.0 1066.56,220.0 1067.40,220.0 1067.40,222.4 1068.23,222.4 1068.23,244.0 1069.07,244.0 1069.07,249.7 1069.90,249.7 1069.90,268.0 1070.74,268.0 1070.74,272.3 1071.57,272.3 1071.57,296.0 1072.41,296.0 1072.41,257.6 1073.25,257.6 1073.25,144.0 1074.08,144.0 1074.08,117.7 1074.92,117.7 1074.92,115.0 1075.75,115.0 1075.75,101.9 1076.59,101.9 1076.59,100.1 1077.42,100.1 1077.42,100.0 1078.26,100.0 1078.26,103.3 1079.09,103.3 1079.09,120.0 1079.93,120.0 1079.93,120.8 1080.76,120.8 1080.76,124.0 1081.60,124.0 1081.60,150.0 1082.43,150.0 1082.43,294.0 1083.27,294.0 1083.27,256.7 1084.10,256.7 1084.10,150.0 1084.94,150.0 1084.94,166.5 1085.77,166.5 1085.77,172.0 1086.61,172.0 1086.61,77.2 1087.44,77.2 1087.44,73.0 1088.28,73.0 1088.28,75.7 1089.12,75.7 1089.12,88.0 1089.95,88.0 1089.95,92.9 1090.79,92.9 1090.79,112.0 1091.62,112.0 1091.62,123.2 1092.46,123.2 1092.46,208.0 1093.29,208.0 1093.29,196.5 1094.13,196.5 1094.13,158.4 1094.96,158.4 1094.96,158.0 1095.80,158.0 1095.80,79.0 1096.63,79.0 1096.63,208.0 1097.47,208.0 1097.47,257.0 1098.30,257.0 1098.30,100.0 1099.14,100.0 1099.14,66.8 1099.97,66.8 1099.97,64.0 1100.81,64.0 1100.81,60.2 1101.64,60.2 1101.64,60.0 1102.48,60.0 1102.48,62.9 1103.31,62.9 1103.31,72.0 1104.15,72.0 1104.15,73.0 1104.99,73.0 1104.99,75.0 1105.82,75.0 1105.82,106.0 1106.66,106.0 1106.66,99.6 1107.49,99.6 1107.49,71.1 1108.33,71.1 1108.33,70.0 1109.16,70.0 1109.16,89.2 1110.00,89.2 1110.00,132.0 1110.83,132.0 1110.83,133.6 1111.67,133.6 1111.67,140.0 1112.50,140.0 1112.50,259.0 1113.34,259.0 1113.34,229.2 1114.17,229.2 1114.17,150.0 1115.01,150.0 1115.01,120.0 1115.84,120.0 1115.84,123.0 1116.68,123.0 1116.68,170.0 1117.51,170.0 1117.51,161.3 1118.35,161.3 1118.35,130.0 1119.18,130.0 1119.18,106.0 1120.02,106.0 1120.02,77.5 1120.86,77.5 1120.86,57.7 1121.69,57.7 1121.69,56.0 1122.53,56.0 1122.53,56.7 1123.36,56.7 1123.36,64.0 1124.20,64.0 1124.20,65.0 1125.03,65.0 1125.03,79.3 1125.87,79.3 1125.87,108.0 1126.70,108.0 1126.70,202.0 1127.54,202.0 1127.54,186.4 1128.37,186.4 1128.37,132.0 1129.21,132.0 1129.21,92.7 1130.04,92.7 1130.04,72.8 1130.88,72.8 1130.88,70.0 1131.71,70.0 1131.71,63.2 1132.55,63.2 1132.55,60.4 1133.38,60.4 1133.38,60.0 1134.22,60.0 1134.22,60.6 1135.05,60.6 1135.05,68.0 1135.89,68.0 1135.89,82.0 1136.73,82.0 1136.73,130.0 1137.56,130.0 1137.56,131.2 1138.40,131.2 1138.40,158.0 1139.23,158.0 1139.23,145.9 1140.07,145.9 1140.07,108.0 1140.90,108.0 1140.90,111.3 1141.74,111.3 1141.74,140.0 1142.57,140.0 1142.57,164.0 1143.41,164.0 1143.41,161.0 1144.24,161.0 1144.24,152.0 1145.08,152.0 1145.08,152.1 1145.91,152.1 1145.91,159.0 1146.75,159.0 1146.75,161.0 1147.58,161.0 1147.58,131.1 1148.42,131.1 1148.42,130.0 1149.25,130.0 1149.25,111.0 1150.09,111.0 1150.09,111.0 1150.60,111.0 1150.60,432.7" fill="#1f77b4"/>
<rect x="109.40" y="37.70" width="1041.20" height="413.50" fill="none" stroke="#000" stroke-width="1.1"/>
<path d="M104.50 432.70H109.40M104.50 355.32H109.40M104.50 277.94H109.40M104.50 200.56H109.40M104.50 123.18H109.40M104.50 45.80H109.40M109.35 451.20V455.90M135.24 451.20V454.20M158.63 451.20V454.20M184.52 451.20V454.20M209.58 451.20V454.20M235.47 451.20V454.20M260.53 451.20V454.20M286.43 451.20V454.20M312.32 451.20V454.20M337.38 451.20V454.20M363.27 451.20V454.20M388.33 451.20V454.20M414.22 451.20V455.90M440.11 451.20V454.20M463.50 451.20V454.20M489.40 451.20V454.20M514.45 451.20V454.20M540.35 451.20V454.20M565.40 451.20V454.20M591.30 451.20V454.20M617.19 451.20V454.20M642.25 451.20V454.20M668.14 451.20V454.20M693.20 451.20V454.20M719.09 451.20V455.90M744.99 451.20V454.20M769.21 451.20V454.20M795.10 451.20V454.20M820.16 451.20V454.20M846.05 451.20V454.20M871.11 451.20V454.20M897.00 451.20V454.20M922.90 451.20V454.20M947.96 451.20V454.20M973.85 451.20V454.20M998.91 451.20V454.20M1024.80 451.20V455.90M1050.69 451.20V454.20M1074.08 451.20V454.20M1099.97 451.20V454.20M1125.03 451.20V454.20M1150.92 451.20V454.20" stroke="#000" stroke-width="1.1" fill="none"/>
<text x="100.90" y="437.20" font-size="12.3" text-anchor="end" textLength="7.90" lengthAdjust="spacingAndGlyphs" font-family="Liberation Sans, sans-serif" fill="#111" stroke="#111" stroke-width="0.25" >0</text>
<text x="99.30" y="360.42" font-size="12.3" text-anchor="end" textLength="38.40" lengthAdjust="spacingAndGlyphs" font-family="Liberation Sans, sans-serif" fill="#111" stroke="#111" stroke-width="0.25" >10000</text>
<text x="99.30" y="283.04" font-size="12.3" text-anchor="end" textLength="38.40" lengthAdjust="spacingAndGlyphs" font-family="Liberation Sans, sans-serif" fill="#111" stroke="#111" stroke-width="0.25" >20000</text>
<text x="99.30" y="205.66" font-size="12.3" text-anchor="end" textLength="38.40" lengthAdjust="spacingAndGlyphs" font-family="Liberation Sans, sans-serif" fill="#111" stroke="#111" stroke-width="0.25" >30000</text>
<text x="99.30" y="128.28" font-size="12.3" text-anchor="end" textLength="38.40" lengthAdjust="spacingAndGlyphs" font-family="Liberation Sans, sans-serif" fill="#111" stroke="#111" stroke-width="0.25" >40000</text>
<text x="99.30" y="50.90" font-size="12.3" text-anchor="end" textLength="38.40" lengthAdjust="spacingAndGlyphs" font-family="Liberation Sans, sans-serif" fill="#111" stroke="#111" stroke-width="0.25" >50000</text>
<text x="108.75" y="468.60" font-size="12.2" text-anchor="middle" textLength="19.00" lengthAdjust="spacingAndGlyphs" font-family="Liberation Sans, sans-serif" fill="#111" stroke="#111" stroke-width="0.25" >Jan</text>
<text x="109.15" y="482.80" font-size="12.2" text-anchor="middle" textLength="30.60" lengthAdjust="spacingAndGlyphs" font-family="Liberation Sans, sans-serif" fill="#111" stroke="#111" stroke-width="0.25" >2022</text>
<text x="259.13" y="466.90" font-size="12.4" text-anchor="middle" textLength="14.20" lengthAdjust="spacingAndGlyphs" font-family="Liberation Sans, sans-serif" fill="#111" stroke="#111" stroke-width="0.25" >Jul</text>
<text x="413.62" y="468.60" font-size="12.2" text-anchor="middle" textLength="19.00" lengthAdjust="spacingAndGlyphs" font-family="Liberation Sans, sans-serif" fill="#111" stroke="#111" stroke-width="0.25" >Jan</text>
<text x="414.02" y="482.80" font-size="12.2" text-anchor="middle" textLength="30.60" lengthAdjust="spacingAndGlyphs" font-family="Liberation Sans, sans-serif" fill="#111" stroke="#111" stroke-width="0.25" >2023</text>
<text x="564.00" y="466.90" font-size="12.4" text-anchor="middle" textLength="14.20" lengthAdjust="spacingAndGlyphs" font-family="Liberation Sans, sans-serif" fill="#111" stroke="#111" stroke-width="0.25" >Jul</text>
<text x="718.49" y="468.60" font-size="12.2" text-anchor="middle" textLength="19.00" lengthAdjust="spacingAndGlyphs" font-family="Liberation Sans, sans-serif" fill="#111" stroke="#111" stroke-width="0.25" >Jan</text>
<text x="718.89" y="482.80" font-size="12.2" text-anchor="middle" textLength="30.60" lengthAdjust="spacingAndGlyphs" font-family="Liberation Sans, sans-serif" fill="#111" stroke="#111" stroke-width="0.25" >2024</text>
<text x="869.71" y="466.90" font-size="12.4" text-anchor="middle" textLength="14.20" lengthAdjust="spacingAndGlyphs" font-family="Liberation Sans, sans-serif" fill="#111" stroke="#111" stroke-width="0.25" >Jul</text>
<text x="1024.20" y="468.60" font-size="12.2" text-anchor="middle" textLength="19.00" lengthAdjust="spacingAndGlyphs" font-family="Liberation Sans, sans-serif" fill="#111" stroke="#111" stroke-width="0.25" >Jan</text>
<text x="1024.60" y="482.80" font-size="12.2" text-anchor="middle" textLength="30.60" lengthAdjust="spacingAndGlyphs" font-family="Liberation Sans, sans-serif" fill="#111" stroke="#111" stroke-width="0.25" >2025</text>
<text x="629.50" y="500.20" font-size="11.8" text-anchor="middle" textLength="28.50" lengthAdjust="spacingAndGlyphs" font-family="Liberation Sans, sans-serif" fill="#111" stroke="#111" stroke-width="0.25" >Date</text>
<text x="0.00" y="0.00" font-size="11.8" text-anchor="middle" textLength="81.00" lengthAdjust="spacingAndGlyphs" font-family="Liberation Sans, sans-serif" fill="#111" stroke="#111" stroke-width="0.25" transform="translate(52.5 245) rotate(-90)">Power (MWh)</text>
<text x="629.30" y="30.60" font-size="15" text-anchor="middle" textLength="420.00" lengthAdjust="spacingAndGlyphs" font-family="Liberation Sans, sans-serif" fill="#111" stroke="#111" stroke-width="0.25" >Hourly Solar Power Generation in Germany (2022-2025)</text>
</svg>
</body></html>
